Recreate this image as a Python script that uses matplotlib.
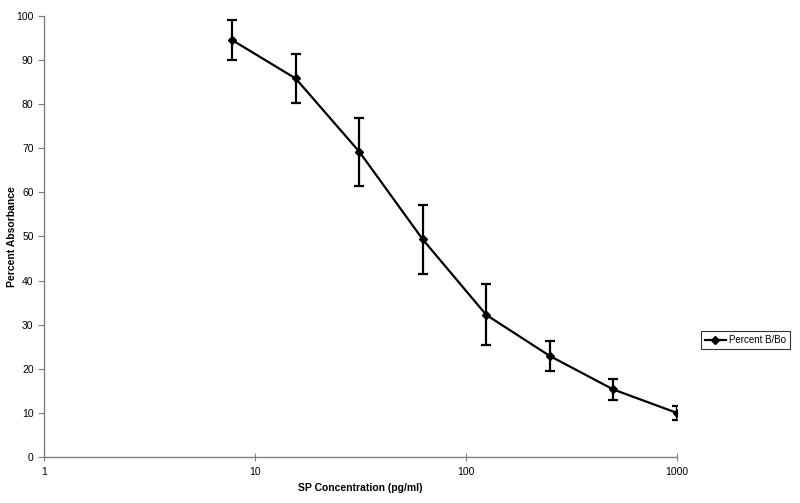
import numpy as np
import matplotlib.pyplot as plt

plt.rcParams['font.family'] = ['Liberation Sans', 'DejaVu Sans']

conc = [7.8, 15.6, 31.25, 62.5, 125, 250, 500, 1000]
percent = [94.5, 85.8, 69.2, 49.3, 32.2, 22.9, 15.3, 10.0]
err = [4.6, 5.6, 7.7, 7.9, 6.9, 3.3, 2.3, 1.6]
xticks = [1, 10, 100, 1000]
yticks = list(range(0, 101, 10))

fig = plt.figure(figsize=(8, 5.03), dpi=100)
ax = fig.add_axes([0.055, 0.0915, 0.791, 0.877])

ax.errorbar(conc, percent, yerr=err, fmt='none', ecolor='black',
            capsize=3.5, capthick=1.6, elinewidth=1.6)
ax.plot(conc, percent, color='black', lw=1.6, marker='D', markersize=4.5,
        label='Percent B/Bo')

ax.set_xscale('log')
ax.set_xlim(1, 1000)
ax.set_ylim(0, 100)
ax.set_xticks(xticks)
ax.set_xticklabels([str(t) for t in xticks])
ax.minorticks_off()
ax.set_yticks(yticks)

for s in ['top', 'right']:
    ax.spines[s].set_visible(False)
for s in ['left', 'bottom']:
    ax.spines[s].set_color('#808080')
    ax.spines[s].set_linewidth(1)
ax.tick_params(axis='y', direction='out', length=4, color='#808080', labelsize=7.5)
ax.tick_params(axis='x', direction='inout', length=6, color='#808080', labelsize=7.5, pad=4)

ax.set_xlabel('SP Concentration (pg/ml)', fontsize=7.5, fontweight='bold')
ax.set_ylabel('Percent Absorbance', fontsize=7.5, fontweight='bold')
ax.xaxis.set_label_coords(0.5, -0.058)
ax.yaxis.set_label_coords(-0.043, 0.5)

leg = ax.legend(loc='center left', bbox_to_anchor=(1.03, 0.265), fontsize=7,
                frameon=True, fancybox=False, edgecolor='black', borderpad=0.4,
                handlelength=2.2, handletextpad=0.3)
leg.get_frame().set_linewidth(0.8)

fig.savefig('out.png', dpi=100)
